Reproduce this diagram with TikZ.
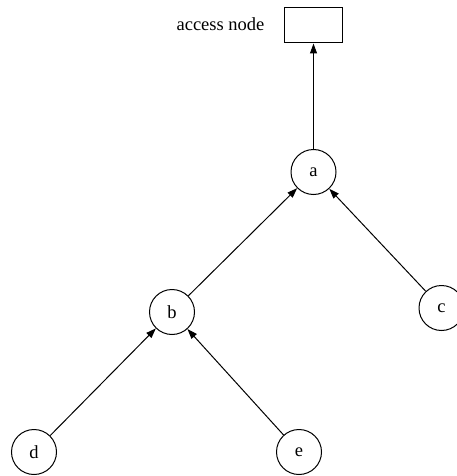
\documentclass[tikz,border=0pt]{standalone}
\usepackage{fontspec}
\setmainfont{Liberation Serif}
\usetikzlibrary{arrows.meta}
\begin{document}
\begin{tikzpicture}[x=1pt,y=-1pt,
  vtx/.style={circle,draw,line width=1pt,minimum size=45pt,inner sep=0pt,font=\fontsize{18.5}{20}\selectfont},
  accbox/.style={rectangle,draw,line width=1pt,minimum width=58pt,minimum height=35pt,inner sep=0pt},
  lbl/.style={font=\fontsize{18.5}{20}\selectfont,inner sep=0pt},
  edge/.style={line width=1pt,-{Triangle[length=10pt,width=7pt]}}]
\useasboundingbox (0,0) rectangle (457,476);
\clip (0,0) rectangle (457,476);
\node[accbox] (acc) at (313.5,25.5) {};
\node[lbl] (acclbl) at (220.5,24) {access node};
\node[vtx] (a) at (313.5,172) {a};
\node[vtx] (b) at (172,312) {b};
\node[vtx] (c) at (441.5,308) {c};
\node[vtx] (d) at (34,452) {d};
\node[vtx] (e) at (299,452) {e};
\draw[edge] (a) -- (acc);
\draw[edge] (b) -- (a);
\draw[edge] (c) -- (a);
\draw[edge] (d) -- (b);
\draw[edge] (e) -- (b);
\end{tikzpicture}
\end{document}
